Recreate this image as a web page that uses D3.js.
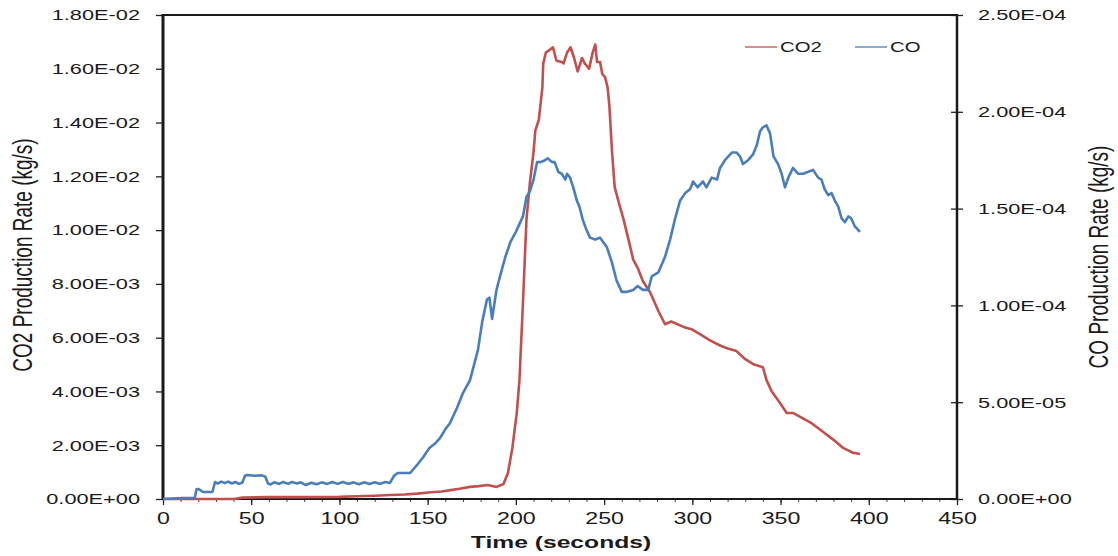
<!DOCTYPE html>
<html>
<head>
<meta charset="UTF-8">
<title>CO2 / CO production rate</title>
<script src="https://cdn.jsdelivr.net/npm/d3@7"></script>
<style>
  body { margin: 0; background: #fff; }
  text { font-family: "Liberation Sans", Arial, sans-serif; fill: #1a1a1a; }
</style>
</head>
<body>
<div id="chart"></div>
<script>
// time axis, seconds
var xTicks = [0, 50, 100, 150, 200, 250, 300, 350, 400, 450];
var co2Ticks = [0, 0.002, 0.004, 0.006, 0.008, 0.010, 0.012, 0.014, 0.016, 0.018];
var coTicks = [0, 5e-5, 1e-4, 1.5e-4, 2e-4, 2.5e-4];

// CO2 production rate (kg/s), left axis
var co2Time = [0, 10, 20, 30, 40, 45, 60, 80, 100, 110, 120, 129, 137, 144, 152, 158, 163, 168, 174, 179, 184, 189, 193, 195.5, 198, 200.5, 202, 204, 206, 208, 210, 211, 213, 215, 215.5, 217, 219, 221, 223, 226, 227, 229, 231, 233, 235, 237.5, 239, 241.5, 243.5, 245, 246, 247.7, 249, 250.5, 252, 253, 254.5, 256, 258, 261, 264, 266.5, 269, 272, 276, 280.7, 284.5, 288, 295, 300, 305, 310, 316, 320, 325, 330, 335, 340, 342, 345, 349.7, 353.5, 357, 362.7, 368, 374, 380, 385.5, 388, 391, 395];
var co2Rate = [0, 0, 0, 0, 0, 0.00005, 0.00007, 0.00007, 0.00008, 0.0001, 0.00012, 0.00015, 0.00017, 0.0002, 0.00025, 0.00028, 0.00033, 0.00038, 0.00045, 0.00048, 0.00052, 0.00045, 0.00056, 0.00097, 0.0019, 0.0032, 0.0044, 0.0073, 0.0104, 0.0118, 0.0129, 0.0137, 0.0141, 0.0153, 0.0162, 0.0166, 0.0167, 0.0168, 0.0163, 0.01625, 0.0162, 0.0166, 0.0168, 0.0164, 0.0159, 0.0164, 0.0162, 0.0160, 0.0166, 0.0169, 0.01625, 0.01625, 0.0158, 0.0157, 0.0153, 0.0146, 0.0129, 0.0116, 0.0111, 0.0104, 0.0096, 0.0089, 0.0086, 0.0081, 0.0077, 0.0070, 0.0065, 0.0066, 0.0064, 0.0063, 0.0061, 0.0059, 0.0057, 0.0056, 0.0055, 0.0052, 0.0050, 0.0049, 0.00443, 0.0040, 0.00357, 0.0032, 0.0032, 0.0030, 0.0028, 0.0025, 0.0022, 0.0019, 0.00182, 0.00172, 0.00167];

// CO production rate (kg/s), right axis
var coTime = [0, 11, 18, 19, 20, 22.7, 28, 29.5, 31, 33, 35, 37, 39, 41, 43, 45, 46.5, 47.5, 52, 56, 58, 59.5, 61, 63, 66, 68, 71, 73, 76, 78, 81, 84, 87, 90, 93, 96, 99, 102, 105, 108, 111, 114, 117, 120, 123, 126, 128.6, 131, 133, 140, 142, 144, 147.5, 151, 154, 157, 160, 162.7, 166.6, 170, 174, 178.5, 181, 183.6, 185, 186.5, 189, 191, 194, 197, 200, 202, 204, 206, 208, 210, 212, 214, 216.5, 218, 220.5, 222, 224, 226, 228, 229, 230.7, 232.5, 234.6, 236, 238, 240, 242, 245, 247.7, 251.6, 254.5, 257, 260, 263, 266.5, 269, 272, 275, 277, 280.7, 284.5, 287.4, 290, 293, 296, 298.7, 300.4, 303, 306, 308, 311, 314, 315.7, 318.5, 322.5, 325, 327, 328.7, 331.6, 334.4, 336.6, 338.4, 340, 342, 344, 346, 348.6, 350.6, 352.5, 354.4, 357, 360, 362.8, 365.7, 368.4, 371.3, 373.2, 375, 377, 378.9, 380.8, 382.7, 384.6, 386.5, 388.4, 390, 392, 395];
var coRate = [0, 0.5e-6, 0.5e-6, 5e-6, 5.2e-6, 3.6e-6, 3.6e-6, 8.8e-6, 8.0e-6, 9.0e-6, 8.2e-6, 9.0e-6, 8.0e-6, 8.8e-6, 7.8e-6, 8.5e-6, 12.0e-6, 12.4e-6, 12.0e-6, 12.2e-6, 11.5e-6, 8.0e-6, 7.5e-6, 8.6e-6, 7.8e-6, 8.8e-6, 7.8e-6, 8.8e-6, 8.0e-6, 8.6e-6, 7.2e-6, 8.4e-6, 7.6e-6, 8.6e-6, 7.8e-6, 8.8e-6, 7.8e-6, 8.8e-6, 7.8e-6, 8.6e-6, 7.6e-6, 8.6e-6, 7.8e-6, 8.6e-6, 7.8e-6, 8.8e-6, 8.3e-6, 12.0e-6, 13.4e-6, 13.4e-6, 15.5e-6, 17.6e-6, 21.7e-6, 26.3e-6, 28.5e-6, 31.5e-6, 36e-6, 39.3e-6, 47e-6, 54.7e-6, 61.4e-6, 77e-6, 92e-6, 103e-6, 104e-6, 93e-6, 108e-6, 115e-6, 125e-6, 133e-6, 138e-6, 142e-6, 146e-6, 156e-6, 159e-6, 165e-6, 174e-6, 174e-6, 175e-6, 176e-6, 174e-6, 174e-6, 169e-6, 168e-6, 165e-6, 168e-6, 166e-6, 161e-6, 154e-6, 151e-6, 144e-6, 139e-6, 135e-6, 134e-6, 135e-6, 130e-6, 122e-6, 113e-6, 107e-6, 107e-6, 108e-6, 110e-6, 108e-6, 108e-6, 115e-6, 117e-6, 125e-6, 134e-6, 144e-6, 154e-6, 158e-6, 160e-6, 164e-6, 161e-6, 164e-6, 161e-6, 166e-6, 165e-6, 171e-6, 175e-6, 179e-6, 179e-6, 177e-6, 173e-6, 175e-6, 178e-6, 183e-6, 190e-6, 192e-6, 193e-6, 189e-6, 177e-6, 173e-6, 168e-6, 161e-6, 166e-6, 171e-6, 168e-6, 168e-6, 169e-6, 170e-6, 166e-6, 165e-6, 160e-6, 157e-6, 158e-6, 154e-6, 151e-6, 145e-6, 143e-6, 146e-6, 145e-6, 141e-6, 138e-6];

var seriesNames = ["CO2", "CO"];
var seriesColors = ["#c0504d", "#4a7ebb"];

var width = 1118, height = 556;
// the source picture is stretched sideways, so text is widened by this much
var stretchX = 1.45;

var x = d3.scaleLinear().domain([0, 450]).range([163, 957]);
var yL = d3.scaleLinear().domain([0, 0.018]).range([499, 15]);
var yR = d3.scaleLinear().domain([0, 2.5e-4]).range([499, 15]);

function sci(v) {
    if (v === 0) return "0.00E+00";
    var p = v.toExponential(2).split("e");
    var e = +p[1];
    return p[0] + "E" + (e < 0 ? "-" : "+") + String(Math.abs(e)).padStart(2, "0");
}

// widen a text by stretchX, then place it by its new width
function widen(sel, align, at) {
    sel.each(function () {
        var t = d3.select(this);
        var w = this.getComputedTextLength() * stretchX;
        t.attr("textLength", w).attr("lengthAdjust", "spacingAndGlyphs")
            .attr("text-anchor", "start");
        if (align === "end") t.attr("x", at - w);
        else if (align === "middle") t.attr("x", at - w / 2);
        else t.attr("x", at);
    });
}

var svg = d3.select("#chart").append("svg")
    .attr("width", width)
    .attr("height", height);

// minor ticks on time axis
svg.append("g")
    .attr("transform", "translate(0,499)")
    .call(d3.axisBottom(x).tickValues(d3.range(0, 451, 10)).tickSize(3).tickFormat(""))
    .call(function (g) { g.select(".domain").remove(); })
    .selectAll("line").attr("stroke", "#444").attr("stroke-width", 1);

// time axis
var gx = svg.append("g")
    .attr("transform", "translate(0,499)")
    .call(d3.axisBottom(x).tickValues(xTicks).tickSize(6).tickFormat(d3.format("d")));
gx.select(".domain").remove();
gx.selectAll("line").attr("stroke", "#222").attr("stroke-width", 1.3);
gx.selectAll("text").attr("font-size", "16px").attr("y", 14).attr("fill", "#1a1a1a");
widen(gx.selectAll("text"), "middle", 0);

// left axis, CO2
var gl = svg.append("g")
    .attr("transform", "translate(163,0)")
    .call(d3.axisLeft(yL).tickValues(co2Ticks).tickSize(7).tickFormat(sci));
gl.select(".domain").remove();
gl.selectAll("line").attr("stroke", "#222").attr("stroke-width", 1.3);
gl.selectAll("text").attr("font-size", "15px").attr("fill", "#1a1a1a");
widen(gl.selectAll("text"), "end", -23);

// right axis, CO
var gr = svg.append("g")
    .attr("transform", "translate(957,0)")
    .call(d3.axisRight(yR).tickValues(coTicks).tickSize(6).tickFormat(sci));
gr.select(".domain").remove();
gr.selectAll("line").attr("x1", -6).attr("stroke", "#222").attr("stroke-width", 1.3);
gr.selectAll("text").attr("font-size", "15px").attr("fill", "#1a1a1a");
widen(gr.selectAll("text"), "start", 21);

// frame
var frame = svg.append("g").attr("stroke", "#1a1a1a");
frame.append("line").attr("x1", 163).attr("x2", 957).attr("y1", 15).attr("y2", 15).attr("stroke-width", 2);
frame.append("line").attr("x1", 162).attr("x2", 958).attr("y1", 499).attr("y2", 499).attr("stroke-width", 2);
frame.append("line").attr("x1", 163).attr("x2", 163).attr("y1", 14).attr("y2", 500).attr("stroke-width", 3);
frame.append("line").attr("x1", 957).attr("x2", 957).attr("y1", 14).attr("y2", 500).attr("stroke-width", 2.5);

// lines
var co2Line = d3.line()
    .x(function (d, i) { return x(co2Time[i]); })
    .y(function (d) { return yL(d); });
var coLine = d3.line()
    .x(function (d, i) { return x(coTime[i]); })
    .y(function (d) { return yR(d); });

svg.append("path")
    .datum(co2Rate)
    .attr("d", co2Line)
    .attr("fill", "none")
    .attr("stroke", seriesColors[0])
    .attr("stroke-width", 2.6)
    .attr("stroke-linejoin", "round");

svg.append("path")
    .datum(coRate)
    .attr("d", coLine)
    .attr("fill", "none")
    .attr("stroke", seriesColors[1])
    .attr("stroke-width", 2.6)
    .attr("stroke-linejoin", "round");

// legend
var legendX = [745, 855];
var legend = svg.append("g");
seriesNames.forEach(function (name, i) {
    legend.append("line")
        .attr("x1", legendX[i]).attr("x2", legendX[i] + 32)
        .attr("y1", 47).attr("y2", 47)
        .attr("stroke", seriesColors[i])
        .attr("stroke-width", 1.3);
    var t = legend.append("text")
        .attr("y", 52)
        .attr("font-size", "14px")
        .attr("fill", "#333")
        .text(name);
    widen(t, "start", legendX[i] + 35);
});

// x title
var xt = svg.append("text")
    .attr("y", 548)
    .attr("font-size", "17px")
    .attr("font-weight", "bold")
    .text("Time (seconds)");
widen(xt, "middle", 561);

// y titles, rotated, glyphs widened across
function yTitle(label, cx, cy) {
    var t = svg.append("text")
        .attr("font-size", "19px")
        .attr("dy", "0.35em")
        .attr("transform", "translate(" + cx + "," + cy + ") rotate(-90) scale(1," + 1.42 + ")")
        .text(label);
    var w = t.node().getComputedTextLength();
    t.attr("x", -w / 2);
}
yTitle("CO2 Production Rate (kg/s)", 23, 255);
yTitle("CO Production Rate (kg/s)", 1099, 257);
</script>
</body>
</html>
